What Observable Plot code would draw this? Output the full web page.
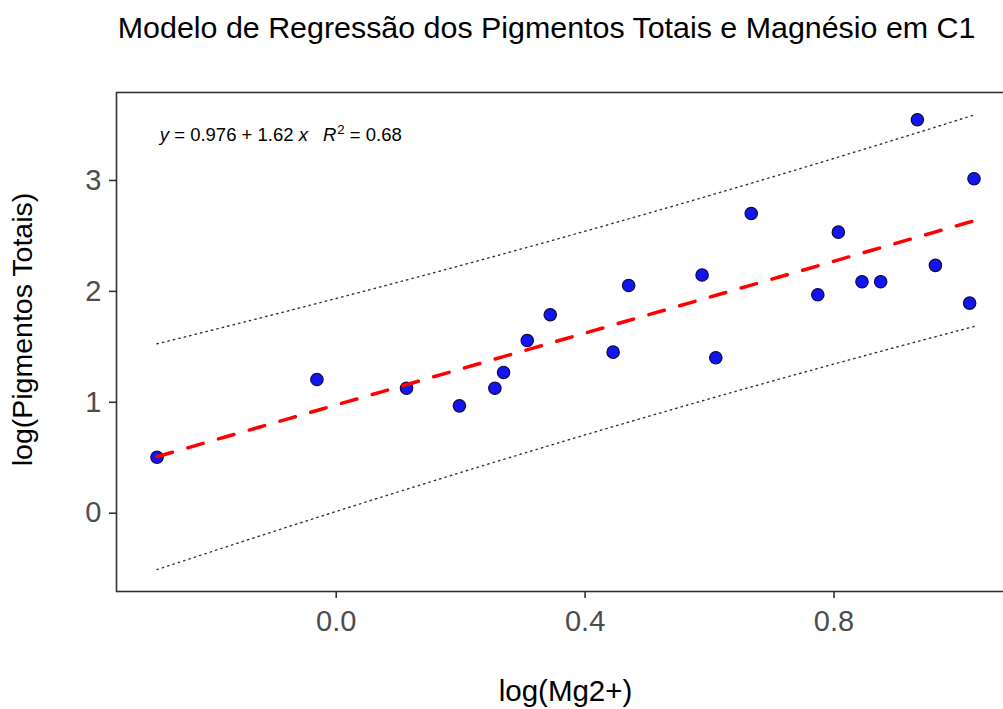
<!DOCTYPE html>
<html>
<head>
<meta charset="utf-8">
<script src="https://cdn.jsdelivr.net/npm/d3@7"></script>
<script src="https://cdn.jsdelivr.net/npm/@observablehq/plot@0.6"></script>
<style>
  html, body { margin: 0; padding: 0; background: #fff; overflow: hidden; }
  #chart svg { display: block; max-width: none !important; }
</style>
</head>
<body>
<div id="chart"></div>
<script>
// Text
const chartTitle = "Modelo de Regressão dos Pigmentos Totais e Magnésio em C1";
const xLabel = "log(Mg2+)";
const yLabel = "log(Pigmentos Totais)";

// Observations (log scale)
const logMg = [-0.288, -0.031, 0.113, 0.198, 0.255, 0.269, 0.307, 0.344, 0.445, 0.470, 0.588,
               0.610, 0.667, 0.774, 0.807, 0.845, 0.875, 0.934, 0.963, 1.018, 1.025];
const logPigmentos = [0.505, 1.206, 1.127, 0.968, 1.127, 1.269, 1.557, 1.789, 1.452, 2.053, 2.148,
                      1.401, 2.702, 1.969, 2.534, 2.087, 2.087, 3.547, 2.234, 1.894, 3.015];

// Ticks
const xTicks = [0, 0.4, 0.8];
const yTicks = [0, 1, 2, 3];

// Fitted model
const fitIntercept = 0.976;
const fitSlope = 1.62;
const rSquared = 0.68;
const tQuantile = 2.093; // t(0.975, df = 19)

const points = logMg.map((x, i) => ({x, y: logPigmentos[i]}));
const n = points.length;
const xbar = d3.mean(logMg);
const sxx = d3.sum(logMg, x => (x - xbar) ** 2);
const predict = x => fitIntercept + fitSlope * x;
const sResid = Math.sqrt(d3.sum(points, d => (d.y - predict(d.x)) ** 2) / (n - 2));
const [xMin, xMax] = d3.extent(logMg);

// Fitted line with 95% prediction interval, evaluated across the observed range
const band = d3.range(0, 81).map(i => {
  const x = xMin + (xMax - xMin) * i / 80;
  const fit = predict(x);
  const h = tQuantile * sResid * Math.sqrt(1 + 1 / n + (x - xbar) ** 2 / sxx);
  return {x, fit, lo: fit - h, hi: fit + h};
});

const eqLabel = `y = ${fitIntercept} + ${fitSlope} x   R2 = ${rSquared}`;

const plot = Plot.plot({
  width: 1030,
  height: 709,
  marginLeft: 116,
  marginRight: 16,
  marginTop: 92,
  marginBottom: 118,
  style: {fontFamily: "'Liberation Sans', Arial, sans-serif", background: "#fff", maxWidth: "none"},
  x: {domain: [-0.3531, 1.0901]},
  y: {domain: [-0.706, 3.793]},
  marks: [
    Plot.axisX({ticks: xTicks, tickSize: 7, tickPadding: 12, tickFormat: d3.format(".1f"),
                fontSize: 29, fill: "#4d4d4d", stroke: "#333", strokeWidth: 1.6, label: null}),
    Plot.axisY({ticks: yTicks, tickSize: 7, tickPadding: 8, tickFormat: d3.format("d"),
                fontSize: 29, fill: "#4d4d4d", stroke: "#333", strokeWidth: 1.6, label: null}),
    Plot.dot(points, {x: "x", y: "y", r: 6.2, fill: "#1414f0", stroke: "#0a0a48", strokeWidth: 1.2}),
    Plot.line(band, {x: "x", y: "hi", stroke: "#333", strokeWidth: 1.4, strokeDasharray: "1.4,4.2"}),
    Plot.line(band, {x: "x", y: "lo", stroke: "#333", strokeWidth: 1.4, strokeDasharray: "1.4,4.2"}),
    Plot.line(band, {x: "x", y: "fit", stroke: "#ff0000", strokeWidth: 3.5, strokeDasharray: "16,16"}),
    Plot.frame({stroke: "#333", strokeWidth: 1.6}),
    Plot.text([eqLabel], {frameAnchor: "top-left", text: d => d, textAnchor: "start", lineAnchor: "middle",
                          dx: 43.3, dy: 37, fontSize: 18.5, fill: "#000"}),
    Plot.text([chartTitle], {frameAnchor: "top-left", text: d => d, textAnchor: "start", lineAnchor: "middle",
                             dx: 1.3, dy: -64.6, fontSize: 30.4, fill: "#000"}),
    Plot.text([xLabel], {frameAnchor: "bottom", text: d => d, textAnchor: "middle", lineAnchor: "middle",
                         dy: 99.6, fontSize: 29.5, fill: "#000"}),
    Plot.text([yLabel], {frameAnchor: "left", text: d => d, textAnchor: "middle", lineAnchor: "middle",
                         rotate: -90, dx: -94, dy: -12.5, fontSize: 28.5, fill: "#000"})
  ]
});

document.getElementById("chart").append(plot);

// Equation label with italic variables and a superscript exponent
const eqNode = Array.from(plot.querySelectorAll("text")).find(t => t.textContent === eqLabel);
if (eqNode) {
  while (eqNode.firstChild) eqNode.removeChild(eqNode.firstChild);
  const ns = "http://www.w3.org/2000/svg";
  const add = (txt, attrs = {}) => {
    const t = document.createElementNS(ns, "tspan");
    t.textContent = txt;
    for (const [k, v] of Object.entries(attrs)) t.setAttribute(k, v);
    eqNode.appendChild(t);
  };
  add("y", {"font-style": "italic", dy: "0.32em"});
  add(` = ${fitIntercept} + ${fitSlope} `);
  add("x", {"font-style": "italic"});
  add("R", {"font-style": "italic", dx: "15"});
  add("2", {"font-size": "0.72em", dy: "-0.55em", dx: "1"});
  add(` = ${rSquared}`, {dy: "0.4em"});
}
</script>
</body>
</html>
